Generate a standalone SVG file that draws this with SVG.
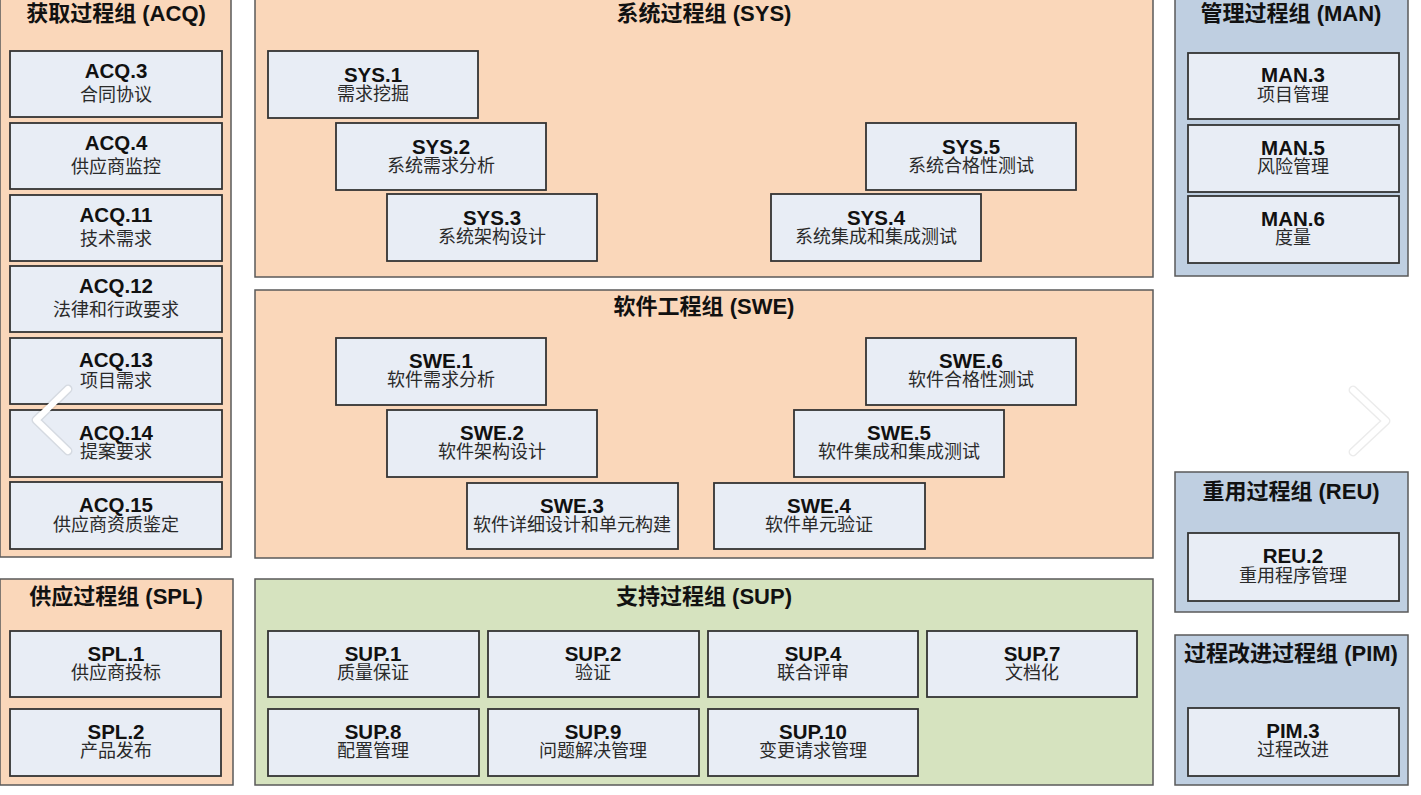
<svg xmlns="http://www.w3.org/2000/svg" width="1421" height="795" viewBox="0 0 1421 795">
<style>
.grp{stroke:#5a5a5a;stroke-width:1.5}
.peach{fill:#FAD7BA}
.green{fill:#D6E3BF}
.blue{fill:#BFCFE1}
.box{fill:#E8EDF5;stroke:#333;stroke-width:1.8}
.gt{font-family:"Liberation Sans","Noto Sans CJK SC",sans-serif;font-weight:bold;font-size:22px;fill:#111;text-anchor:middle}
.lb{font-family:"Liberation Sans","Noto Sans CJK SC",sans-serif;font-weight:bold;font-size:20.5px;fill:#111;text-anchor:middle}
.sb{font-family:"Liberation Sans","Noto Sans CJK SC",sans-serif;font-size:18px;fill:#2a2a2a;text-anchor:middle}
.chev{fill:none;stroke:#fff;stroke-width:6;stroke-linecap:round;stroke-linejoin:round}
.chevs{fill:none;stroke:#000;stroke-opacity:0.08;stroke-width:9;stroke-linecap:round;stroke-linejoin:round}
</style>
<rect width="1421" height="795" fill="#fff"/>

<!-- Groups -->
<g id="grp-acq"><rect class="grp peach" x="0" y="-5" width="231" height="562"/><text class="gt" x="116" y="21">获取过程组 (ACQ)</text></g>
<g id="grp-sys"><rect class="grp peach" x="255" y="-5" width="898" height="282"/><text class="gt" x="704" y="21">系统过程组 (SYS)</text></g>
<g id="grp-man"><rect class="grp blue" x="1175" y="-5" width="233" height="281"/><text class="gt" x="1291" y="21">管理过程组 (MAN)</text></g>
<g id="grp-swe"><rect class="grp peach" x="255" y="290" width="898" height="268"/><text class="gt" x="704" y="314">软件工程组 (SWE)</text></g>
<g id="grp-reu"><rect class="grp blue" x="1175" y="472" width="233" height="140"/><text class="gt" x="1291" y="499">重用过程组 (REU)</text></g>
<g id="grp-spl"><rect class="grp peach" x="0" y="579" width="233" height="206"/><text class="gt" x="116" y="604">供应过程组 (SPL)</text></g>
<g id="grp-sup"><rect class="grp green" x="255" y="579" width="898" height="206"/><text class="gt" x="704" y="604">支持过程组 (SUP)</text></g>
<g id="grp-pim"><rect class="grp blue" x="1175" y="635" width="233" height="150"/><text class="gt" x="1291" y="661">过程改进过程组 (PIM)</text></g>

<!-- ACQ nodes -->
<g id="acq3"><rect class="box" x="10" y="51" width="212" height="66"/><text class="lb" x="116" y="78">ACQ.3</text><text class="sb" x="116" y="101">合同协议</text></g>
<g id="acq4"><rect class="box" x="10" y="123" width="212" height="66"/><text class="lb" x="116" y="150">ACQ.4</text><text class="sb" x="116" y="173">供应商监控</text></g>
<g id="acq11"><rect class="box" x="10" y="195" width="212" height="66"/><text class="lb" x="116" y="222">ACQ.11</text><text class="sb" x="116" y="245">技术需求</text></g>
<g id="acq12"><rect class="box" x="10" y="266" width="212" height="66"/><text class="lb" x="116" y="293">ACQ.12</text><text class="sb" x="116" y="316">法律和行政要求</text></g>
<g id="acq13"><rect class="box" x="10" y="338" width="212" height="66"/><text class="lb" x="116" y="367">ACQ.13</text><text class="sb" x="116" y="387">项目需求</text></g>
<g id="acq14"><rect class="box" x="10" y="410" width="212" height="67"/><text class="lb" x="116" y="440">ACQ.14</text><text class="sb" x="116" y="458">提案要求</text></g>
<g id="acq15"><rect class="box" x="10" y="482" width="212" height="67"/><text class="lb" x="116" y="512">ACQ.15</text><text class="sb" x="116" y="531">供应商资质鉴定</text></g>

<!-- SYS nodes -->
<g id="sys1"><rect class="box" x="268" y="51" width="210" height="67"/><text class="lb" x="373" y="82">SYS.1</text><text class="sb" x="373" y="100">需求挖掘</text></g>
<g id="sys2"><rect class="box" x="336" y="123" width="210" height="67"/><text class="lb" x="441" y="154">SYS.2</text><text class="sb" x="441" y="172">系统需求分析</text></g>
<g id="sys3"><rect class="box" x="387" y="194" width="210" height="67"/><text class="lb" x="492" y="225">SYS.3</text><text class="sb" x="492" y="243">系统架构设计</text></g>
<g id="sys4"><rect class="box" x="771" y="194" width="210" height="67"/><text class="lb" x="876" y="225">SYS.4</text><text class="sb" x="876" y="243">系统集成和集成测试</text></g>
<g id="sys5"><rect class="box" x="866" y="123" width="210" height="67"/><text class="lb" x="971" y="154">SYS.5</text><text class="sb" x="971" y="172">系统合格性测试</text></g>

<!-- MAN nodes -->
<g id="man3"><rect class="box" x="1188" y="53" width="211" height="66"/><text class="lb" x="1293" y="82">MAN.3</text><text class="sb" x="1293" y="101">项目管理</text></g>
<g id="man5"><rect class="box" x="1188" y="125" width="211" height="67"/><text class="lb" x="1293" y="155">MAN.5</text><text class="sb" x="1293" y="173">风险管理</text></g>
<g id="man6"><rect class="box" x="1188" y="196" width="211" height="67"/><text class="lb" x="1293" y="226">MAN.6</text><text class="sb" x="1293" y="244">度量</text></g>

<!-- SWE nodes -->
<g id="swe1"><rect class="box" x="336" y="338" width="210" height="67"/><text class="lb" x="441" y="368">SWE.1</text><text class="sb" x="441" y="386">软件需求分析</text></g>
<g id="swe2"><rect class="box" x="387" y="410" width="210" height="67"/><text class="lb" x="492" y="440">SWE.2</text><text class="sb" x="492" y="458">软件架构设计</text></g>
<g id="swe3"><rect class="box" x="467" y="483" width="211" height="66"/><text class="lb" x="572" y="513">SWE.3</text><text class="sb" x="572" y="531">软件详细设计和单元构建</text></g>
<g id="swe4"><rect class="box" x="714" y="483" width="211" height="66"/><text class="lb" x="819" y="513">SWE.4</text><text class="sb" x="819" y="531">软件单元验证</text></g>
<g id="swe5"><rect class="box" x="794" y="410" width="210" height="67"/><text class="lb" x="899" y="440">SWE.5</text><text class="sb" x="899" y="458">软件集成和集成测试</text></g>
<g id="swe6"><rect class="box" x="866" y="338" width="210" height="67"/><text class="lb" x="971" y="368">SWE.6</text><text class="sb" x="971" y="386">软件合格性测试</text></g>

<!-- REU / PIM nodes -->
<g id="reu2"><rect class="box" x="1188" y="533" width="211" height="68"/><text class="lb" x="1293" y="563">REU.2</text><text class="sb" x="1293" y="582">重用程序管理</text></g>
<g id="pim3"><rect class="box" x="1188" y="708" width="211" height="68"/><text class="lb" x="1293" y="738">PIM.3</text><text class="sb" x="1293" y="756">过程改进</text></g>

<!-- SPL nodes -->
<g id="spl1"><rect class="box" x="10" y="631" width="211" height="66"/><text class="lb" x="116" y="661">SPL.1</text><text class="sb" x="116" y="679">供应商投标</text></g>
<g id="spl2"><rect class="box" x="10" y="709" width="211" height="67"/><text class="lb" x="116" y="739">SPL.2</text><text class="sb" x="116" y="757">产品发布</text></g>

<!-- SUP nodes -->
<g id="sup1"><rect class="box" x="268" y="631" width="211" height="66"/><text class="lb" x="373" y="661">SUP.1</text><text class="sb" x="373" y="679">质量保证</text></g>
<g id="sup2"><rect class="box" x="488" y="631" width="211" height="66"/><text class="lb" x="593" y="661">SUP.2</text><text class="sb" x="593" y="679">验证</text></g>
<g id="sup4"><rect class="box" x="708" y="631" width="210" height="66"/><text class="lb" x="813" y="661">SUP.4</text><text class="sb" x="813" y="679">联合评审</text></g>
<g id="sup7"><rect class="box" x="927" y="631" width="210" height="66"/><text class="lb" x="1032" y="661">SUP.7</text><text class="sb" x="1032" y="679">文档化</text></g>
<g id="sup8"><rect class="box" x="268" y="709" width="211" height="67"/><text class="lb" x="373" y="739">SUP.8</text><text class="sb" x="373" y="757">配置管理</text></g>
<g id="sup9"><rect class="box" x="488" y="709" width="211" height="67"/><text class="lb" x="593" y="739">SUP.9</text><text class="sb" x="593" y="757">问题解决管理</text></g>
<g id="sup10"><rect class="box" x="708" y="709" width="210" height="67"/><text class="lb" x="813" y="739">SUP.10</text><text class="sb" x="813" y="757">变更请求管理</text></g>

<g id="connectors"></g>

<!-- carousel chevrons overlay -->
<g id="overlay">
<polyline class="chevs" points="68,389 36,420 68,451"/>
<polyline class="chev" points="68,389 36,420 68,451"/>
<polyline class="chevs" points="1353,390 1386,421 1353,452"/>
<polyline class="chev" points="1353,390 1386,421 1353,452"/>
</g>
</svg>
